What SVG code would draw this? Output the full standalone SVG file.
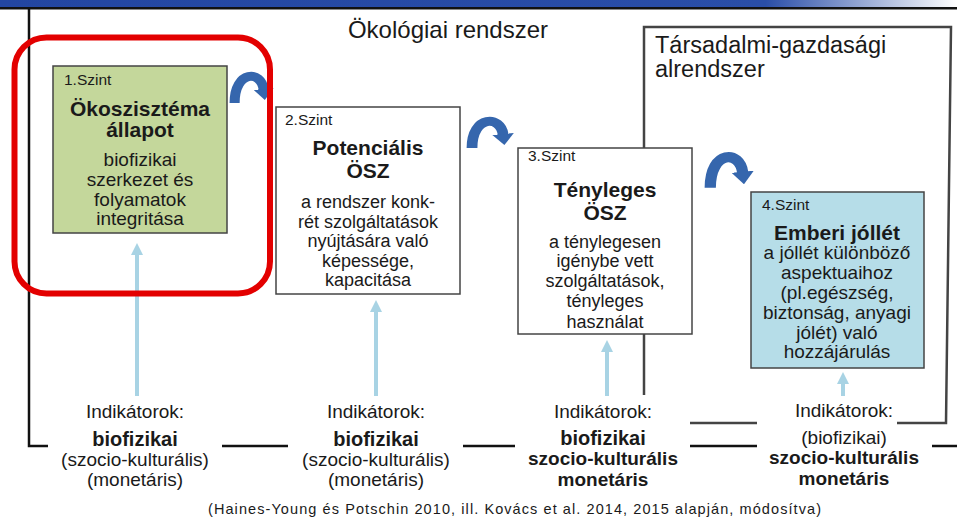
<svg xmlns="http://www.w3.org/2000/svg" width="957" height="519" viewBox="0 0 957 519">
<defs>
<linearGradient id="banner" x1="0" y1="0" x2="1" y2="0">
<stop offset="0" stop-color="#2346a2"/>
<stop offset="0.8" stop-color="#2a4ea8"/>
<stop offset="1" stop-color="#ffffff"/>
</linearGradient>
<marker id="lbHead" markerUnits="userSpaceOnUse" viewBox="0 0 12 12" markerWidth="12" markerHeight="12" refX="2" refY="6" orient="auto">
<path d="M0,0 L12,6 L0,12 z" fill="#a8d3e4"/>
</marker>
<marker id="blueHead" markerUnits="userSpaceOnUse" viewBox="0 0 11 18" markerWidth="11" markerHeight="18" refX="1" refY="9" orient="auto">
<path d="M0,0 L11,9 L0,18 z" fill="#3566ad"/>
</marker>
</defs>
<style>
.t{font-family:"Liberation Sans",Arial,sans-serif;fill:#1a1a1a}
.lv{font-size:15.5px}
.h{font-size:21px;font-weight:bold;text-anchor:middle}
.b{font-size:18px;text-anchor:middle}
.b19{font-size:19px;text-anchor:middle}
.ib{font-size:20px;font-weight:bold;text-anchor:middle}
.ib2{font-size:19px;font-weight:bold;text-anchor:middle}
.frame{fill:none;stroke:#111;stroke-width:2.5}
.frame2{fill:none;stroke:#444;stroke-width:2.5}
.box{stroke:#444;stroke-width:1.5}
.lb{stroke:#a8d3e4;stroke-width:4;fill:none;marker-end:url(#lbHead)}
.curve{fill:none;stroke:#3566ad;stroke-width:9;marker-end:url(#blueHead)}
</style>
<rect x="0" y="0" width="957" height="519" fill="#ffffff"/>
<!-- banner -->
<rect x="0" y="0" width="957" height="7" fill="url(#banner)"/>
<rect x="0" y="7" width="957" height="2.5" fill="#111"/>
<!-- frames -->
<g id="frames">
<path class="frame" d="M29,9 L29,446 L48,446"/>
<line class="frame" x1="222" y1="446" x2="288" y2="446"/>
<line class="frame" x1="463" y1="446" x2="515" y2="446"/>
<line class="frame" x1="690" y1="446" x2="757" y2="446"/>
<line class="frame" x1="932" y1="446" x2="957" y2="446"/>
<path class="frame2" d="M644,395 L644,27 L951,27 L946,423 L897,423"/>
<line class="frame2" x1="690" y1="423" x2="757" y2="423"/>
</g>
<text class="t" x="448" y="38" font-size="24" text-anchor="middle">Ökológiai rendszer</text>
<text class="t" x="655" y="53" font-size="23.5">Társadalmi-gazdasági</text>
<text class="t" x="655" y="77" font-size="23.5">alrendszer</text>
<!-- nodes -->
<g id="level1">
<rect class="box" x="53" y="66" width="174" height="167" fill="#c4d79b"/>
<text class="t lv" x="64" y="85">1.Szint</text>
<text class="t h" x="140" y="116" font-size="21.5">Ökoszisztéma</text>
<text class="t h" x="140" y="137" font-size="21.5">állapot</text>
<text class="t b19" x="140" y="166">biofizikai</text>
<text class="t b19" x="140" y="186">szerkezet és</text>
<text class="t b19" x="140" y="206">folyamatok</text>
<text class="t b19" x="140" y="225">integritása</text>
</g>
<g id="level2">
<rect class="box" x="276" y="107" width="184" height="187" fill="#ffffff"/>
<text class="t lv" x="285" y="125">2.Szint</text>
<text class="t h" x="368" y="155">Potenciális</text>
<text class="t h" x="368" y="178">ÖSZ</text>
<text class="t b" x="368" y="208">a rendszer konk-</text>
<text class="t b" x="368" y="228">rét szolgáltatások</text>
<text class="t b" x="368" y="247">nyújtására  való</text>
<text class="t b" x="368" y="267">képessége,</text>
<text class="t b" x="368" y="286">kapacitása</text>
</g>
<g id="level3">
<rect class="box" x="518" y="148" width="174" height="186" fill="#ffffff"/>
<text class="t lv" x="528" y="161">3.Szint</text>
<text class="t h" x="605" y="197">Tényleges</text>
<text class="t h" x="605" y="220">ÖSZ</text>
<text class="t b" x="605" y="248">a ténylegesen</text>
<text class="t b" x="605" y="267">igénybe vett</text>
<text class="t b" x="605" y="287">szolgáltatások,</text>
<text class="t b" x="605" y="307">tényleges</text>
<text class="t b" x="605" y="328">használat</text>
</g>
<g id="level4">
<rect class="box" x="751" y="192" width="173" height="176" fill="#b6dde8"/>
<text class="t lv" x="762" y="210">4.Szint</text>
<text class="t h" x="837" y="240" font-size="20">Emberi jóllét</text>
<text class="t b19" x="837" y="259">a jóllét különböző</text>
<text class="t b19" x="837" y="279">aspektuaihoz</text>
<text class="t b19" x="837" y="299">(pl.egészség,</text>
<text class="t b19" x="837" y="319">biztonság, anyagi</text>
<text class="t b19" x="837" y="339">jólét) való</text>
<text class="t b19" x="837" y="358">hozzájárulás</text>
</g>
<g id="indicators1">
<text class="t b19" x="135" y="418">Indikátorok:</text>
<text class="t ib" x="135" y="446">biofizikai</text>
<text class="t b19" x="135" y="466">(szocio-kulturális)</text>
<text class="t b19" x="135" y="486">(monetáris)</text>
</g>
<g id="indicators2">
<text class="t b19" x="376" y="418">Indikátorok:</text>
<text class="t ib" x="376" y="446">biofizikai</text>
<text class="t b19" x="376" y="466">(szocio-kulturális)</text>
<text class="t b19" x="376" y="486">(monetáris)</text>
</g>
<g id="indicators3">
<text class="t b19" x="603" y="418">Indikátorok:</text>
<text class="t ib" x="603" y="445">biofizikai</text>
<text class="t ib2" x="603" y="465">szocio-kulturális</text>
<text class="t ib2" x="603" y="486">monetáris</text>
</g>
<g id="indicators4">
<text class="t b19" x="844" y="417">Indikátorok:</text>
<text class="t b19" x="844" y="444">(biofizikai)</text>
<text class="t ib2" x="844" y="464">szocio-kulturális</text>
<text class="t ib2" x="844" y="485">monetáris</text>
</g>
<!-- connectors -->
<g id="connectors">
<line class="lb" x1="137" y1="396" x2="137" y2="253"/>
<line class="lb" x1="376" y1="396" x2="376" y2="310"/>
<line class="lb" x1="607" y1="396" x2="607" y2="350"/>
<line class="lb" x1="843" y1="396" x2="843" y2="382"/>
<path class="curve" transform="translate(229,71) scale(1.12,1)" d="M5,32 C5,-1 29,-1 31,19"/>
<path class="curve" transform="translate(466,116) scale(1.2,1)" d="M5,32 C5,-1 29,-1 31,19"/>
<path class="curve" transform="translate(704,151) scale(1.25,1.15)" d="M5,32 C5,-1 29,-1 31,19"/>
</g>
<!-- highlight -->
<rect id="highlight" x="14.5" y="37.5" width="255.5" height="256" rx="32" ry="32" fill="none" stroke="#e30000" stroke-width="6"/>
<text class="t" x="208" y="514" font-size="14.5" fill="#222" textLength="613" lengthAdjust="spacing">(Haines-Young  és Potschin 2010, ill. Kovács et al. 2014, 2015 alapján, módosítva)</text>
</svg>
